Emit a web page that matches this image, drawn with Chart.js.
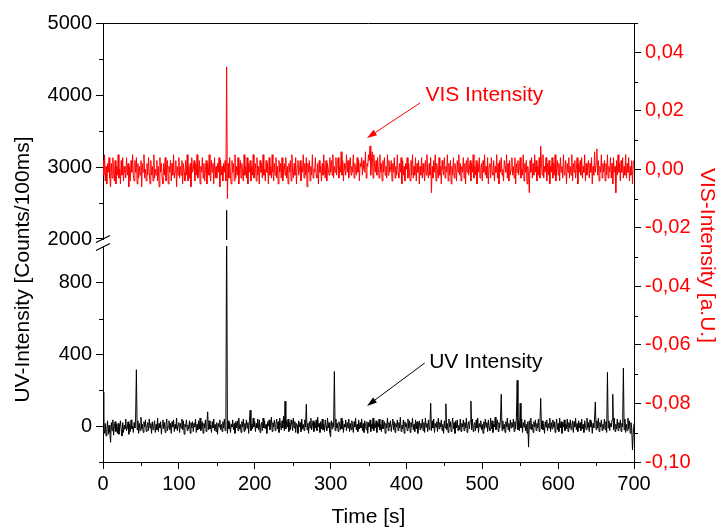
<!DOCTYPE html>
<html>
<head>
<meta charset="utf-8">
<script src="https://cdn.jsdelivr.net/npm/chart.js@4.4.1/dist/chart.umd.min.js"></script>
<style>
  html, body { margin: 0; padding: 0; background: #ffffff; }
  canvas { display: block; }
</style>
</head>
<body>
<canvas id="chart" width="724" height="528"></canvas>
<script>
// ---------------- DATA ----------------
const timeStep = 1; // seconds between samples

// UV intensity [Counts/100ms], one value per second from 0 to 700 s
const uvValues = [
  190,-10,-40,15,-55,-20,30,-45,5,-35,
  -90,20,-25,35,-50,0,25,-30,10,-40,
  15,-45,-5,30,-20,-55,20,-35,5,-15,
  40,-25,-10,25,-45,10,-30,35,-15,0,
  -35,20,-10,45,315,-20,30,-40,15,-25,
  50,-15,10,-35,25,-5,35,-30,0,20,
  -25,40,-10,15,-40,25,-20,5,30,-35,
  10,-20,45,-30,15,-10,25,-45,5,35,
  -15,20,-35,10,40,-25,0,30,-20,15,
  -40,25,-5,35,-30,10,-15,45,-25,5,
  20,-35,15,-10,40,-20,30,-45,10,-5,
  35,-25,5,-15,30,-40,20,-10,25,-30,
  15,-5,40,-35,10,-20,30,-15,45,-25,
  0,25,-40,15,-10,35,-30,20,80,-20,
  30,-15,5,-35,25,-10,40,-25,10,-30,
  20,-45,15,-5,35,-20,10,-30,25,-10,
  40,-25,5,2400,-40,30,-15,20,-35,10,
  -5,35,-20,15,-40,25,-10,30,-25,45,
  -15,10,-35,25,-5,40,-30,15,-20,35,
  -10,20,-40,30,89,-25,10,-15,45,-5,
  25,-30,15,-10,40,-20,35,-35,5,20,
  -25,45,-10,30,-15,10,-40,25,0,35,
  -20,15,50,-30,20,-5,35,-25,10,40,
  -15,25,-35,45,5,-20,30,-10,55,-25,
  139,-15,30,-5,40,-30,20,-20,35,10,
  -25,45,-10,25,-35,15,5,-40,30,-5,
  20,-30,40,-15,10,-25,35,-5,122,-20,
  15,-40,25,-10,45,-20,5,30,-30,20,
  -10,35,-25,50,-5,15,-35,25,-15,40,
  -20,10,-30,35,0,-25,45,-10,20,-35,
  -60,30,-15,20,-5,305,-25,40,-10,15,
  -30,25,5,-20,45,-15,30,-35,10,-5,
  35,-25,20,-10,40,-30,15,-20,30,0,
  -35,25,-5,45,-20,10,-30,35,-15,20,
  -10,40,-25,15,-35,30,5,-20,25,-40,
  20,-5,35,-30,10,-15,45,-25,15,-10,
  30,-35,20,-5,40,-20,10,-30,35,-15,
  5,25,-40,15,-10,45,-25,20,-5,30,
  -30,10,40,-20,25,-35,15,-5,35,-25,
  20,-10,50,-30,5,-15,35,-40,25,-5,
  15,-25,40,-10,30,-35,20,-5,45,-20,
  10,-30,35,-15,25,-40,5,30,-20,15,
  -10,40,-25,20,-35,45,-5,15,-30,35,
  -20,10,128,-25,30,-10,40,-35,15,-5,
  25,-30,45,-15,20,-5,35,-25,10,-40,
  30,-10,125,-20,15,-35,40,-5,25,-30,
  10,45,-15,20,-40,30,-10,35,-25,5,
  -20,40,-30,15,-5,35,-25,20,-10,45,
  -35,10,25,-15,30,140,-20,40,-30,5,
  20,-25,35,-10,45,-35,15,-5,30,-20,
  10,-40,25,-15,40,-5,20,-30,35,-10,
  -25,45,-15,30,-35,10,-5,50,-20,15,
  35,-30,20,-10,40,178,-25,30,-15,10,
  -35,25,-5,45,-20,15,-30,35,-10,20,
  -5,40,-30,25,-15,50,256,-20,30,-25,
  128,-10,40,-35,20,-5,35,-25,10,-40,
  25,-117,30,-15,45,-20,10,-35,25,-5,
  35,-25,15,-10,40,-30,20,155,-15,30,
  -20,10,-40,25,-5,35,-25,15,-10,45,
  -30,20,-15,35,-5,25,-35,10,40,-20,
  15,-30,45,-10,25,-40,20,-5,35,-25,
  10,-15,40,-30,20,-10,35,-20,5,30,
  -35,25,-5,45,-20,15,-30,30,-10,20,
  -25,40,-15,10,-35,30,5,-20,45,-10,
  20,-30,35,-5,25,-40,15,-10,40,135,
  -20,30,-10,45,-30,20,-5,35,-25,10,
  -15,40,-20,25,-35,300,-10,30,-25,15,
  -5,35,178,-20,45,-30,10,-15,40,-25,
  20,-10,35,-30,15,-5,324,-20,40,-35,
  10,-25,45,-15,30,-40,20,-10,-133,-45,
  15
];

// VIS intensity [a.U.], one value per second from 0 to 700 s
const visValues = [
  .003,-.002,.005,-.004,.001,-.005,.002,-.001,.004,-.003,
  -.006,.002,-.003,.004,-.001,-.004,.003,-.005,.001,-.002,
  .005,-.003,0,-.005,.003,-.002,.004,-.004,.001,-.001,
  -.003,.004,-.002,.002,-.006,.001,-.004,.003,-.001,.005,
  -.002,-.004,.003,-.001,.004,-.005,.002,-.003,.001,-.002,
  .003,-.006,.002,-.001,.005,-.003,0,-.004,.002,-.002,
  .004,-.001,-.005,.003,-.002,.001,-.004,.005,-.003,0,
  -.002,.003,-.004,.001,-.006,.004,-.001,.002,-.003,-.005,
  .002,-.002,.004,-.004,0,.003,-.005,.001,-.001,.003,
  -.004,.002,-.002,.005,-.003,-.001,.003,-.006,.001,-.002,
  .004,-.003,.001,-.002,.003,-.005,.002,-.001,-.004,.003,
  -.002,.005,-.004,.001,-.003,.002,-.006,.004,-.001,0,
  .003,-.004,.002,-.002,.005,-.003,-.001,.003,-.005,.001,
  -.001,.004,-.003,.002,-.004,0,.003,-.005,.002,-.002,
  .005,-.002,-.004,.003,-.001,.002,-.005,.004,-.003,.001,
  -.003,.002,-.001,.004,-.006,.003,-.002,.001,-.004,.002,
  -.001,.003,-.004,.035,-.010,.002,-.003,.004,-.002,-.005,
  .003,-.001,.002,-.004,.005,-.003,.001,-.002,.004,-.005,
  0,.003,-.003,.002,-.001,-.004,.005,-.002,.001,-.003,
  .004,-.005,.002,-.001,.003,-.004,.001,-.002,.005,-.003,
  -.001,.002,-.004,.004,-.002,.001,-.005,.003,-.001,.002,
  -.003,.005,-.002,0,-.004,.003,-.001,.002,-.005,.004,
  -.002,.001,-.003,.005,-.001,-.004,.002,-.002,.004,-.003,
  .001,-.005,.003,-.001,.002,-.003,.004,-.004,0,.002,
  -.002,.004,-.003,.001,-.005,.002,-.001,.003,-.004,.005,
  -.001,-.003,.002,-.002,.004,-.005,.001,.003,-.002,0,
  .003,-.004,.001,-.001,.005,-.003,.002,-.002,.004,-.006,
  .002,-.001,.003,-.004,.001,-.002,.005,-.003,0,-.001,
  .004,-.002,-.003,.002,-.005,.003,-.001,.001,-.004,.002,
  -.002,.005,-.001,-.003,.003,-.004,.002,0,-.002,.004,
  -.001,.003,-.002,.005,-.003,.001,-.001,.004,-.002,.002,
  .004,-.003,.001,-.001,.006,-.002,.003,-.004,.002,0,
  -.002,.005,-.001,.003,-.003,.002,.004,-.002,.001,-.001,
  .005,-.003,.002,0,-.002,.004,-.001,.003,-.004,.002,
  .001,.004,-.002,.003,0,-.001,.006,-.003,.002,.001,
  .005,.003,.008,-.002,.004,.006,-.003,.005,.001,-.001,
  .003,-.002,.004,0,-.003,.005,-.001,.002,-.004,.003,
  -.001,.004,-.002,.001,-.003,.005,-.002,.003,-.001,0,
  .003,-.004,.002,-.001,.004,-.003,.001,-.002,.005,-.001,
  -.003,.002,-.001,.004,-.005,.003,-.002,.001,-.004,.002,
  0,.004,-.003,.002,-.001,-.004,.003,-.002,.005,-.003,
  .001,-.002,.004,-.004,.002,-.001,.003,-.005,.001,-.002,
  .004,-.003,.002,-.001,-.004,.003,-.002,.005,-.001,-.003,
  .002,-.002,.004,-.008,.001,-.003,.003,-.001,.005,-.004,
  .002,-.001,-.003,.004,-.002,.001,-.005,.003,0,-.002,
  .004,-.003,.001,-.001,.005,-.004,.002,-.002,.003,-.005,
  .001,-.002,.004,-.003,.002,0,-.004,.003,-.001,.005,
  -.002,.002,-.004,.001,-.001,.004,-.003,.002,-.005,.003,
  -.001,.004,-.002,0,.003,-.004,.002,-.001,.005,-.003,
  .001,-.002,.003,-.005,.002,-.001,.004,-.003,0,.002,
  -.004,.003,-.001,.005,-.002,.001,-.003,.004,-.005,.001,
  .002,-.003,.004,-.001,-.002,.003,-.004,.001,-.001,.005,
  -.003,.002,-.005,.003,-.001,.004,-.002,0,-.004,.003,
  .001,-.001,.005,-.003,.002,-.004,.003,-.002,0,.004,
  -.002,.001,-.003,.004,-.005,.002,-.001,.003,-.002,.001,
  .004,-.003,0,-.002,.005,-.004,.002,-.001,.003,-.005,
  .001,-.002,-.008,.003,-.001,.004,-.003,.002,-.002,.005,
  -.001,.003,-.004,.001,-.002,.004,-.003,.008,.002,-.002,
  .005,-.003,.001,-.001,.004,-.004,.002,-.002,.003,-.005,
  .001,-.001,.004,-.003,.002,-.002,.005,-.004,0,.003,
  -.002,.002,-.004,.004,-.001,.001,-.003,.005,-.002,0,
  .003,-.005,.002,-.001,.004,-.003,.001,-.002,.005,-.004,
  .002,-.001,.003,-.003,0,.004,-.005,.002,-.001,.003,
  -.002,.004,-.003,.001,-.001,.005,-.004,.002,-.002,.001,
  .003,-.003,.002,-.001,.004,-.005,.001,-.002,.006,-.001,
  .002,.007,-.002,.003,-.004,.001,-.001,.005,-.003,.002,
  -.001,.003,-.004,.002,-.002,.005,-.003,.001,-.001,.004,
  -.003,.002,-.005,.004,-.001,.001,-.008,.003,-.002,.005,
  -.001,.002,-.004,.003,-.001,.004,-.003,.001,-.002,.005,
  -.003,.002,-.001,.004,-.004,.001,-.002,.003,-.005,.002,
  .003
];

// Tick values / labels
const xTickValues = [0, 100, 200, 300, 400, 500, 600, 700];
const xMinorTickValues = [50, 150, 250, 350, 450, 550, 650];
const uvTickValues = [0, 400, 800, 2000, 3000, 4000, 5000];
const uvMinorTickValues = [-200, 200, 600, 2500, 3500, 4500];
const visTickValues = [-0.10, -0.08, -0.06, -0.04, -0.02, 0, 0.02, 0.04];
const visMinorTickValues = [-0.09, -0.07, -0.05, -0.03, -0.01, 0.01, 0.03, 0.05];

// Texts
const xTitle = 'Time [s]';
const uvTitle = 'UV-Intensity [Counts/100ms]';
const visTitle = 'VIS-Intensity [a.U.]';
const uvSeriesName = 'UV Intensity';
const visSeriesName = 'VIS Intensity';

// ---------------- AXIS CONFIG ----------------
// broken UV axis: value -> fraction of axis height
const uvAxisSegments = [
  { value: -200, frac: 0 },
  { value: 1000, frac: 215 / 439 },
  { value: 2000, frac: 223 / 439 },
  { value: 5000, frac: 1 }
];

class BrokenLinearScale extends Chart.LinearScale {
  static id = 'brokenLinear';
  static defaults = {};
  _fracFor(value) {
    const s = uvAxisSegments;
    let i = 0;
    while (i < s.length - 2 && value > s[i + 1].value) i++;
    const a = s[i], b = s[i + 1];
    return a.frac + (value - a.value) / (b.value - a.value) * (b.frac - a.frac);
  }
  getPixelForValue(value) {
    return this.bottom - this._fracFor(value) * (this.bottom - this.top);
  }
  getValueForPixel(pixel) {
    const f = (this.bottom - pixel) / (this.bottom - this.top);
    const s = uvAxisSegments;
    let i = 0;
    while (i < s.length - 2 && f > s[i + 1].frac) i++;
    const a = s[i], b = s[i + 1];
    return a.value + (f - a.frac) / (b.frac - a.frac) * (b.value - a.value);
  }
}
Chart.register(BrokenLinearScale);

const FONT = '"Liberation Sans", Arial, sans-serif';
const times = uvValues.map((_, i) => i * timeStep);

// annotation anchors in data coordinates
const visNote = { t: 425, v: 0.0255, from: { t: 418, v: 0.0227 }, to: { t: 348, v: 0.0107 } };
const uvNote = { t: 430, v: 357, from: { t: 424, v: 352 }, to: { t: 348, v: 113 } };

function drawArrow(ctx, x1, y1, x2, y2, color) {
  ctx.strokeStyle = color; ctx.fillStyle = color; ctx.lineWidth = 1;
  const ang = Math.atan2(y2 - y1, x2 - x1);
  const len = 10, half = 3.2;
  const bx = x2 - len * Math.cos(ang), by = y2 - len * Math.sin(ang);
  ctx.beginPath(); ctx.moveTo(x1, y1); ctx.lineTo(bx, by); ctx.stroke();
  ctx.beginPath();
  ctx.moveTo(x2, y2);
  ctx.lineTo(bx + half * Math.sin(ang), by - half * Math.cos(ang));
  ctx.lineTo(bx - half * Math.sin(ang), by + half * Math.cos(ang));
  ctx.closePath(); ctx.fill();
}

const extrasPlugin = {
  id: 'extras',
  afterDatasetsDraw(chart) {
    const { ctx, chartArea: ca, scales } = chart;
    const sx = scales.x, sl = scales.yUV, sr = scales.yVIS;
    ctx.save();

    // axis break on UV axis
    const pHi = sl.getPixelForValue(uvAxisSegments[2].value);
    const pLo = sl.getPixelForValue(uvAxisSegments[1].value);
    ctx.fillStyle = '#ffffff';
    ctx.fillRect(ca.left - 8, pHi + 1, ca.right - ca.left + 7, pLo - pHi - 2);
    ctx.strokeStyle = '#000000'; ctx.lineWidth = 1.2;
    for (const p of [pHi, pLo]) {
      ctx.beginPath(); ctx.moveTo(ca.left - 7, p + 3.5); ctx.lineTo(ca.left + 7, p - 3.5); ctx.stroke();
    }

    // minor ticks
    ctx.strokeStyle = '#000000'; ctx.lineWidth = 1;
    const minorLen = 4;
    ctx.beginPath();
    for (const v of xMinorTickValues) {
      const px = Math.round(sx.getPixelForValue(v)) + 0.5;
      ctx.moveTo(px, ca.bottom); ctx.lineTo(px, ca.bottom + minorLen);
    }
    for (const v of uvMinorTickValues) {
      const py = Math.round(sl.getPixelForValue(v)) + 0.5;
      ctx.moveTo(ca.left, py); ctx.lineTo(ca.left - minorLen, py);
    }
    for (const v of visMinorTickValues) {
      const py = Math.round(sr.getPixelForValue(v)) + 0.5;
      ctx.moveTo(ca.right, py); ctx.lineTo(ca.right + minorLen, py);
    }
    ctx.stroke();

    // top frame
    ctx.beginPath();
    ctx.moveTo(ca.left, Math.round(ca.top) + 0.5); ctx.lineTo(ca.right, Math.round(ca.top) + 0.5);
    ctx.stroke();

    // annotations
    ctx.font = '21px ' + FONT;
    ctx.textAlign = 'left'; ctx.textBaseline = 'middle';
    ctx.fillStyle = '#ff0000';
    ctx.fillText(visSeriesName, sx.getPixelForValue(visNote.t), sr.getPixelForValue(visNote.v));
    drawArrow(ctx, sx.getPixelForValue(visNote.from.t), sr.getPixelForValue(visNote.from.v),
      sx.getPixelForValue(visNote.to.t), sr.getPixelForValue(visNote.to.v), '#ff0000');
    ctx.fillStyle = '#000000';
    ctx.fillText(uvSeriesName, sx.getPixelForValue(uvNote.t), sl.getPixelForValue(uvNote.v));
    drawArrow(ctx, sx.getPixelForValue(uvNote.from.t), sl.getPixelForValue(uvNote.from.v),
      sx.getPixelForValue(uvNote.to.t), sl.getPixelForValue(uvNote.to.v), '#000000');

    // axis titles
    ctx.font = '21px ' + FONT;
    ctx.textAlign = 'center'; ctx.textBaseline = 'middle';
    ctx.fillStyle = '#000000';
    ctx.fillText(xTitle, (ca.left + ca.right) / 2, ca.bottom + 55);
    ctx.save();
    ctx.translate(ca.left - 80, (ca.top + ca.bottom) / 2 + 27);
    ctx.rotate(-Math.PI / 2);
    ctx.fillText(uvTitle, 0, 0);
    ctx.restore();
    ctx.save();
    ctx.fillStyle = '#ff0000';
    ctx.translate(ca.right + 73, (ca.top + ca.bottom) / 2 + 13);
    ctx.rotate(Math.PI / 2);
    ctx.fillText(visTitle, 0, 0);
    ctx.restore();

    ctx.restore();
  }
};

const tickFont = { family: FONT, size: 20 };

new Chart(document.getElementById('chart'), {
  type: 'line',
  data: {
    datasets: [
      {
        label: uvSeriesName,
        data: times.map((t, i) => ({ x: t, y: uvValues[i] })),
        yAxisID: 'yUV',
        borderColor: '#000000',
        borderWidth: 1,
        pointRadius: 0,
        tension: 0,
        fill: false
      },
      {
        label: visSeriesName,
        data: times.map((t, i) => ({ x: t, y: visValues[i] })),
        yAxisID: 'yVIS',
        borderColor: '#ff0000',
        borderWidth: 1,
        pointRadius: 0,
        tension: 0,
        fill: false
      }
    ]
  },
  options: {
    responsive: false,
    animation: false,
    devicePixelRatio: 1,
    layout: { padding: { top: 23, left: 0, right: 0, bottom: 0 } },
    plugins: { legend: { display: false }, tooltip: { enabled: false } },
    scales: {
      x: {
        type: 'linear',
        position: 'bottom',
        min: 0, max: 700,
        afterBuildTicks: (s) => { s.ticks = xTickValues.map(v => ({ value: v })); },
        afterFit: (s) => { s.height = 66; },
        ticks: {
          autoSkip: false, maxRotation: 0, padding: 3,
          color: '#000000', font: tickFont,
          callback: (v) => String(v)
        },
        grid: { drawOnChartArea: false, drawTicks: true, tickLength: 7, tickColor: '#000000', color: '#000000' },
        border: { display: true, color: '#000000', width: 1 }
      },
      yUV: {
        type: 'brokenLinear',
        position: 'left',
        min: -200, max: 5000,
        afterBuildTicks: (s) => { s.ticks = uvTickValues.map(v => ({ value: v })); },
        afterFit: (s) => { s.width = 103; },
        ticks: {
          autoSkip: false, padding: 4,
          color: '#000000', font: tickFont,
          callback: (v) => String(v)
        },
        grid: { drawOnChartArea: false, drawTicks: true, tickLength: 7, tickColor: '#000000', color: '#000000' },
        border: { display: true, color: '#000000', width: 1 }
      },
      yVIS: {
        type: 'linear',
        position: 'right',
        min: -0.10, max: 0.05,
        afterBuildTicks: (s) => { s.ticks = visTickValues.map(v => ({ value: v })); },
        afterFit: (s) => { s.width = 90; },
        ticks: {
          autoSkip: false, padding: 4,
          color: '#ff0000', font: tickFont,
          callback: (v) => v.toFixed(2).replace('.', ',')
        },
        grid: { drawOnChartArea: false, drawTicks: true, tickLength: 7, tickColor: '#000000', color: '#000000' },
        border: { display: true, color: '#000000', width: 1 }
      }
    }
  },
  plugins: [extrasPlugin]
});
</script>
</body>
</html>
